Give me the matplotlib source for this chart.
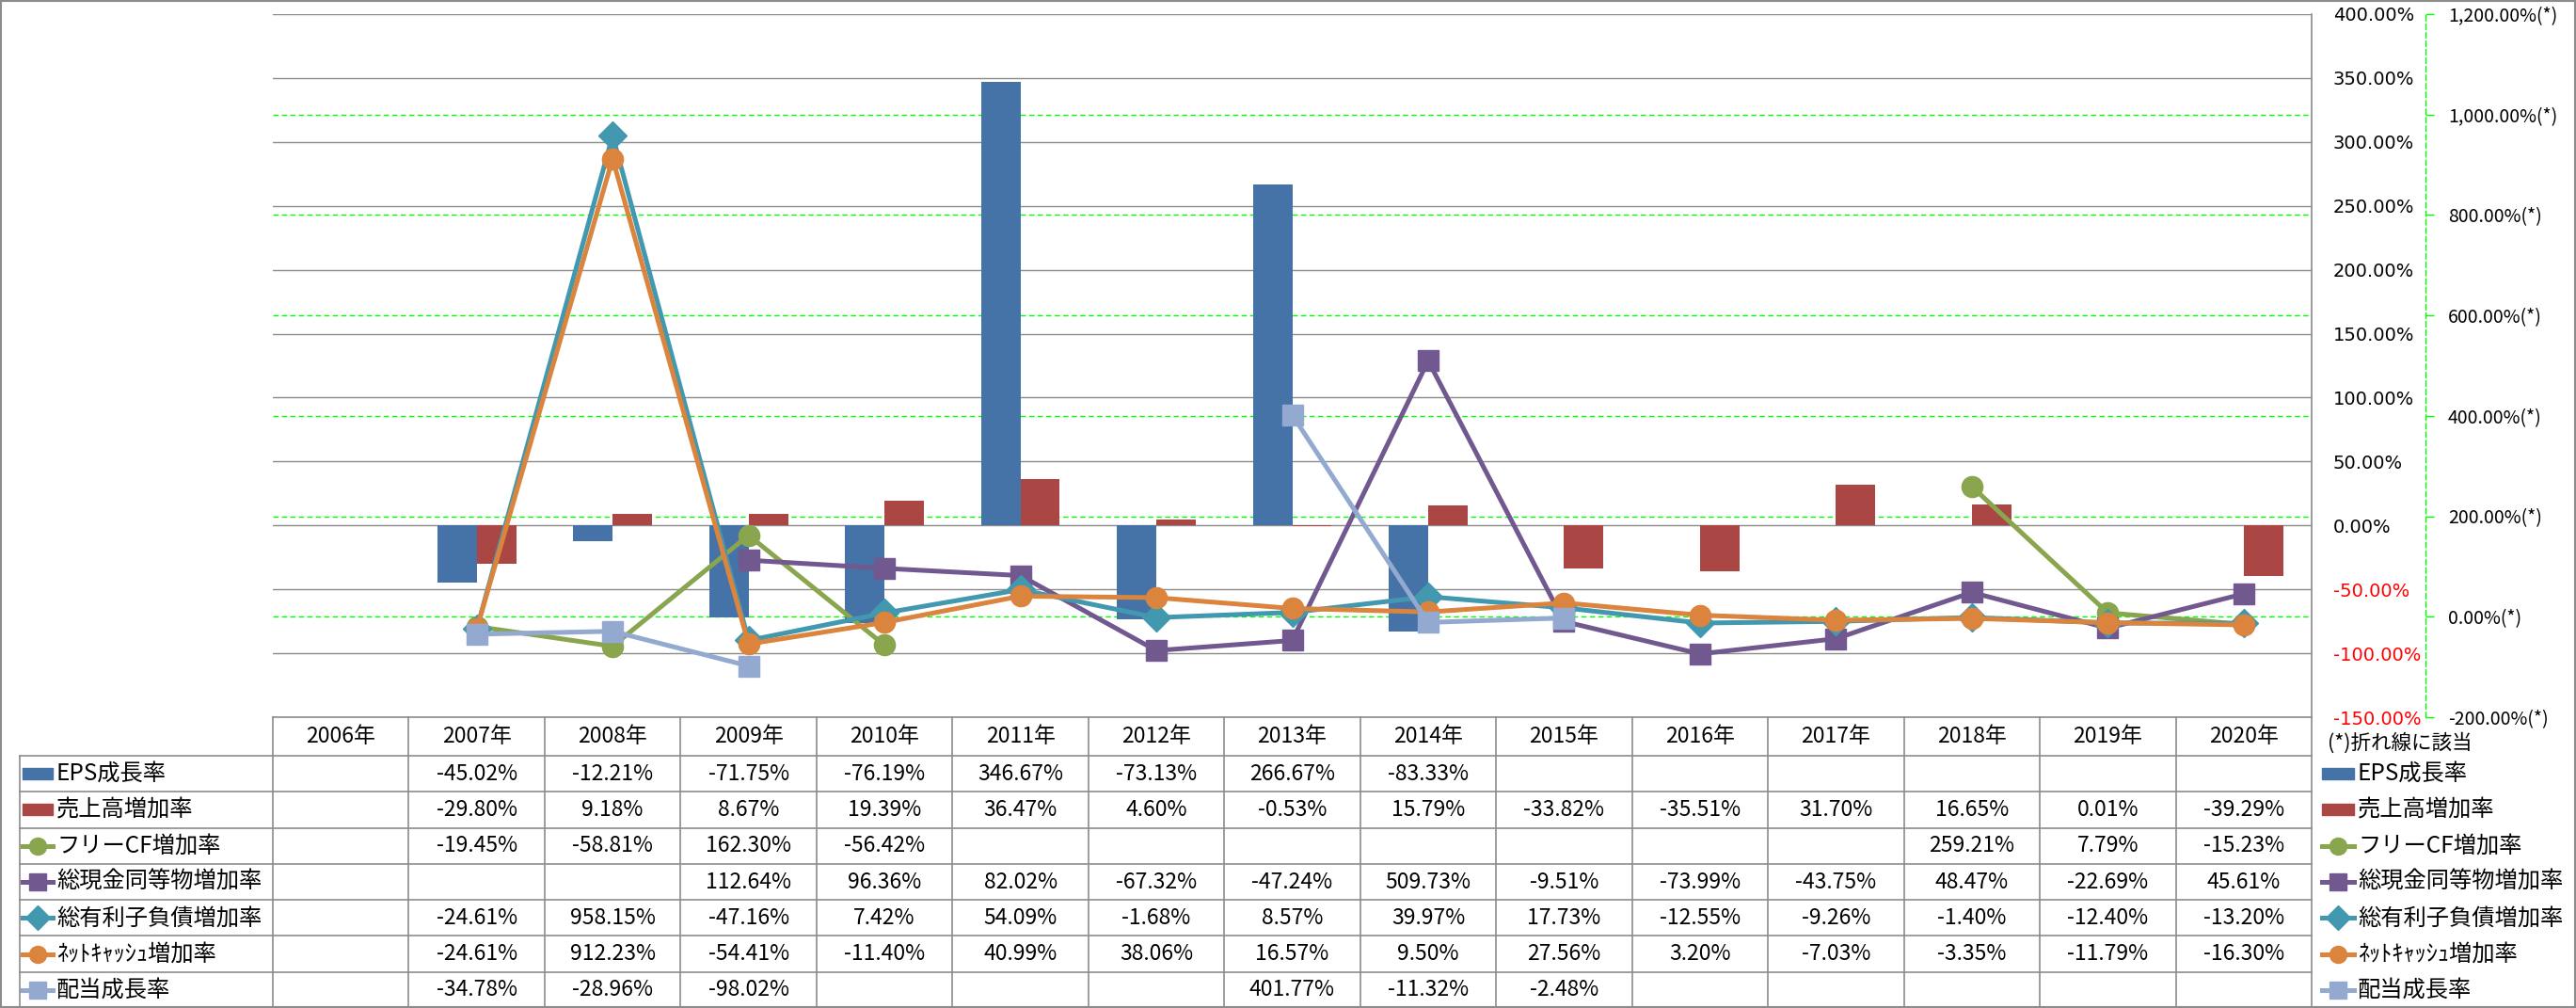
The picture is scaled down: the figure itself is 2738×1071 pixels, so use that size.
import numpy as np
import matplotlib
matplotlib.use('Agg')
import matplotlib.pyplot as plt
from matplotlib.patches import Rectangle

plt.rcParams['font.family'] = ['Noto Sans CJK JP', 'DejaVu Sans']

nan = np.nan
years = ['2006年', '2007年', '2008年', '2009年', '2010年', '2011年', '2012年', '2013年',
         '2014年', '2015年', '2016年', '2017年', '2018年', '2019年', '2020年']

# bars (left axis)
eps_growth = [nan, -45.02, -12.21, -71.75, -76.19, 346.67, -73.13, 266.67, -83.33,
              nan, nan, nan, nan, nan, nan]
sales_growth = [nan, -29.80, 9.18, 8.67, 19.39, 36.47, 4.60, -0.53, 15.79,
                -33.82, -35.51, 31.70, 16.65, 0.01, -39.29]
# lines (right axis, marked (*))
fcf_growth = [nan, -19.45, -58.81, 162.30, -56.42, nan, nan, nan, nan,
              nan, nan, nan, 259.21, 7.79, -15.23]
cash_growth = [nan, nan, nan, 112.64, 96.36, 82.02, -67.32, -47.24, 509.73,
               -9.51, -73.99, -43.75, 48.47, -22.69, 45.61]
debt_growth = [nan, -24.61, 958.15, -47.16, 7.42, 54.09, -1.68, 8.57, 39.97,
               17.73, -12.55, -9.26, -1.40, -12.40, -13.20]
netcash_growth = [nan, -24.61, 912.23, -54.41, -11.40, 40.99, 38.06, 16.57, 9.50,
                  27.56, 3.20, -7.03, -3.35, -11.79, -16.30]
div_growth = [nan, -34.78, -28.96, -98.02, nan, nan, nan, 401.77, -11.32,
              -2.48, nan, nan, nan, nan, nan]

pri_ticks = np.arange(-150, 401, 50)
sec_ticks = np.arange(-200, 1201, 200)

# (label, values, kind, colour, marker, marker size)
rows = [
    ('EPS成長率', eps_growth, 'bar', '#4572A7', None, 0),
    ('売上高増加率', sales_growth, 'bar', '#AA4643', None, 0),
    ('フリーCF増加率', fcf_growth, 'line', '#89A54E', 'o', 16),
    ('総現金同等物増加率', cash_growth, 'line', '#71588F', 's', 16),
    ('総有利子負債増加率', debt_growth, 'line', '#4198AF', 'D', 15),
    ('ﾈｯﾄｷｬｯｼｭ増加率', netcash_growth, 'line', '#DB843D', 'o', 16),
    ('配当成長率', div_growth, 'line', '#93A9CF', 's', 16),
]

W, H = 2738, 1071
fig = plt.figure(figsize=(W / 100, H / 100), dpi=100)

# plot area in pixels
p_left, p_right, p_top, p_bot = 290, 2457, 15, 762
ax = fig.add_axes([p_left / W, 1 - p_bot / H, (p_right - p_left) / W, (p_bot - p_top) / H])
ax.patch.set_visible(False)
ax2 = ax.twinx()

x = np.arange(len(years))
bw = 0.29
ax.bar(x - bw / 2, rows[0][1], bw, color=rows[0][3], zorder=2)
ax.bar(x + bw / 2, rows[1][1], bw, color=rows[1][3], zorder=2)
ax.set_xlim(-0.5, len(years) - 0.5)
ax.set_ylim(pri_ticks[0], pri_ticks[-1])
ax.set_xticks([])

ax.yaxis.tick_right()
ax.set_yticks(pri_ticks, labels=[f'{v:,.2f}%' for v in pri_ticks])
ax.tick_params(axis='y', length=0, pad=16.5, labelsize=14)
for lbl, v in zip(ax.get_yticklabels(), pri_ticks):
    lbl.set_color('red' if v < 0 else 'black')
    lbl.set_fontfamily('DejaVu Sans')
ax.grid(axis='y', which='major', color='#8A8A8A', lw=1.0)

# secondary gridlines drawn behind bars, on the primary axes
def sec_to_pri(v):
    return pri_ticks[0] + (v - sec_ticks[0]) * (pri_ticks[-1] - pri_ticks[0]) / (sec_ticks[-1] - sec_ticks[0])

ax.set_yticks([sec_to_pri(v) for v in sec_ticks], minor=True)
ax.tick_params(axis='y', which='minor', length=0)
ax.grid(axis='y', which='minor', color='#00FF00', lw=1.0, ls=(0, (4, 2.5)))
ax.set_axisbelow(True)

for s in ['left', 'top', 'bottom']:
    ax.spines[s].set_visible(False)
ax.spines['right'].set_color('#8A8A8A')
ax.spines['right'].set_linewidth(1.2)

for label, vals, kind, color, marker, ms in rows:
    if kind == 'line':
        ax2.plot(x, vals, color=color, lw=3.6, marker=marker, ms=ms, mec=color,
                 solid_joinstyle='round', zorder=3)

ax2.set_ylim(sec_ticks[0], sec_ticks[-1])
ax2.set_yticks(sec_ticks, labels=[f'{v:,.2f}%(*)' for v in sec_ticks])
for lbl, v in zip(ax2.get_yticklabels(), sec_ticks):
    lbl.set_color('red' if v < 0 else 'black')
    lbl.set_fontfamily('DejaVu Sans')
ax2.tick_params(axis='y', length=6.5, width=1, color='#00FF00', pad=10.8, labelsize=14)
for s in ['left', 'top', 'bottom']:
    ax2.spines[s].set_visible(False)
ax2.spines['right'].set_position(('outward', 121 * 0.72))
ax2.spines['right'].set_color('#00FF00')
ax2.spines['right'].set_linestyle((0, (4, 2.5)))
ax2.spines['right'].set_linewidth(1.0)

# data table below the chart, drawn in pixel coordinates
tab = fig.add_axes([0, 0, 1, 1], zorder=-1)
tab.set_xlim(0, W)
tab.set_ylim(H, 0)
tab.axis('off')

gc = '#8C8C8C'
cw = (p_right - p_left) / len(years)
col_edges = p_left + np.arange(len(years) + 1) * cw
head_bot = 803
rh = (H - head_bot) / len(rows)
row_edges = head_bot + np.arange(len(rows) + 1) * rh
t_left = 21

tab.plot([p_left, p_right], [p_bot, p_bot], color=gc, lw=1.2)
for ye in row_edges:
    tab.plot([t_left, p_right], [ye, ye], color=gc, lw=1.2)
for xe in col_edges:
    tab.plot([xe, xe], [p_bot, H], color=gc, lw=1.2)
tab.plot([t_left, t_left], [head_bot, H], color=gc, lw=1.2)
tab.add_patch(Rectangle((1, 1), W - 2, H - 2, fill=False, ec=gc, lw=1.5))

for j, yr in enumerate(years):
    tab.text((col_edges[j] + col_edges[j + 1]) / 2, (p_bot + head_bot) / 2, yr,
             ha='center', va='center', fontsize=16.5)


def draw_key(x0, x1, yc, kind, color, marker):
    if kind == 'bar':
        tab.add_patch(Rectangle((x0, yc - 6), x1 - x0, 12, color=color))
    else:
        tab.plot([x0, (x0 + x1) / 2, x1], [yc] * 3, color=color, lw=3.6,
                 marker=marker, markevery=[1], ms=13, mec=color)


for i, (label, vals, kind, color, marker, ms) in enumerate(rows):
    yc = (row_edges[i] + row_edges[i + 1]) / 2
    draw_key(24, 56, yc, kind, color, marker)
    tab.text(60, yc, label, ha='left', va='center', fontsize=17.5)
    for j, v in enumerate(vals):
        if not np.isnan(v):
            tab.text((col_edges[j] + col_edges[j + 1]) / 2, yc, f'{v:.2f}%',
                     ha='center', va='center', fontsize=16.5)
    # legend on the right
    draw_key(2468, 2502, yc, kind, color, marker)
    tab.text(2506, yc, label, ha='left', va='center', fontsize=17.5)

tab.text(2474, 790, '(*)折れ線に該当', ha='left', va='center', fontsize=15.5)

fig.savefig('out.png', dpi=100)
